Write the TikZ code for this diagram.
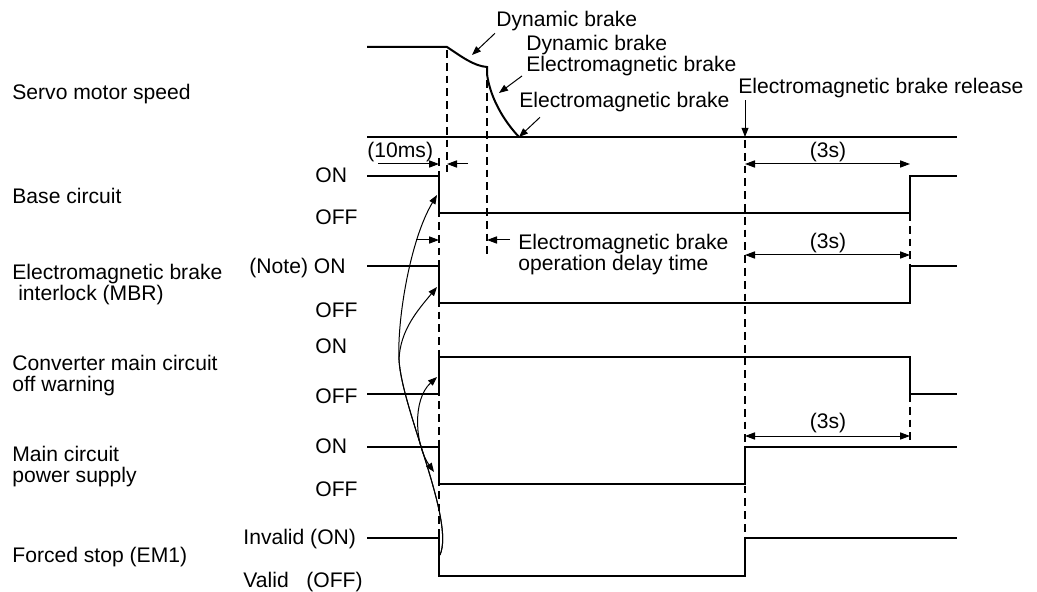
\documentclass[tikz,border=0pt]{standalone}
\usepackage{fontspec}
\setmainfont{Liberation Sans}
\usepackage{xcolor}
\usepackage{tikz}
\usetikzlibrary{arrows.meta}
\tikzset{
  signal/.style={line width=1pt, line join=miter},
  axisline/.style={line width=1.4pt},
  guide/.style={line width=0.6pt, dash pattern=on 3.9pt off 2.5pt},
  dimarrow/.style={line width=0.5pt, -{Triangle[length=5pt,width=3.6pt]}},
  dimboth/.style={line width=0.5pt, {Triangle[length=5pt,width=3.6pt]}-{Triangle[length=5pt,width=3.6pt]}},
  callout/.style={line width=0.5pt, -{Triangle[length=4.5pt,width=3.4pt]}},
  curvearrow/.style={line width=0.5pt, -{Triangle[length=4.5pt,width=3.4pt]}},
  curvebi/.style={line width=0.5pt, {Triangle[length=4.5pt,width=3.4pt]}-{Triangle[length=4.5pt,width=3.4pt]}},
  lbl/.style={inner sep=0pt, anchor=base west},
  lblr/.style={inner sep=0pt, anchor=base east},
  lblc/.style={inner sep=0pt, anchor=base},
  lbl2/.style={inner sep=0pt, anchor=north west, align=left}
}
\begin{document}
\begin{tikzpicture}[x=0.5pt, y=-0.5pt, font=\fontsize{10.55}{10.5}\selectfont]
  \useasboundingbox (0,0) rectangle (1037,592);

  % signal names
  \node[lbl] (speedLbl) at (12,99.5) {Servo motor speed};
  \node[lbl] (baseLbl) at (12,203.5) {Base circuit};
  \node[lbl2] (mbrLbl) at (12,263.5) {Electromagnetic brake\\\ interlock (MBR)};
  \node[lbl2] (convLbl) at (12,354.5) {Converter main circuit\\off warning};
  \node[lbl2] (mainLbl) at (12,445.5) {Main circuit\\power supply};
  \node[lbl] (fsLbl) at (12,562.5) {Forced stop (EM1)};

  % levels
  \node[lbl] (baseOn) at (315,182.5) {ON};
  \node[lbl] (baseOff) at (315,224.5) {OFF};
  \node[lblr] (mbrOn) at (346,273.5) {(Note) ON};
  \node[lbl] (mbrOff) at (315,317.5) {OFF};
  \node[lbl] (convOn) at (315,353.5) {ON};
  \node[lbl] (convOff) at (315,403.5) {OFF};
  \node[lbl] (mainOn) at (315,453.5) {ON};
  \node[lbl] (mainOff) at (315,496.5) {OFF};
  \node[lbl] (fsOn) at (243,544.5) {Invalid (ON)};
  \node[lbl] (fsOff) at (243,587.5) {Valid\ \ \ (OFF)};

  % waveforms
  \draw[axisline] (367,137) -- (519,137);
  \draw[signal] (367,47) -- (447,47) .. controls (462,57) and (474,66) .. (487,67) -- (487,74)
    .. controls (490,97) and (503,120) .. (519,137);
  \draw[signal, line width=0.75pt] (519,137) -- (957,137);
  \draw[signal] (367,176) -- (439,176) -- (439,213) -- (910,213) -- (910,176) -- (957,176);
  \draw[signal] (367,266) -- (439,266) -- (439,303) -- (910,303) -- (910,266) -- (957,266);
  \draw[signal] (367,394) -- (439,394) -- (439,357) -- (910,357) -- (910,394) -- (957,394);
  \draw[signal] (367,447) -- (439,447) -- (439,484) -- (745,484) -- (745,447) -- (957,447);
  \draw[signal] (367,538) -- (439,538) -- (439,576) -- (745,576) -- (745,538) -- (957,538);

  \draw[guide] (447,50) -- (447,172);
  \draw[guide] (487,80) -- (487,258);
  \draw[guide] (439,158) -- (439,545);
  \draw[guide] (745,140) -- (745,538);
  \draw[guide] (910,213) -- (910,266);
  \draw[guide] (910,394) -- (910,440);

  % time spans
  \node[lbl] (msLbl) at (367,157.5) {(10ms)};
  \draw[dimarrow] (378,164) -- (439,164);
  \draw[dimarrow] (468,164) -- (447,164);
  \draw[dimarrow] (416,240) -- (439,240);
  \draw[dimarrow] (510,240) -- (487,240);
  \node[lbl2] (delayLbl) at (518,233.5) {Electromagnetic brake\\operation delay time};
  \draw[dimboth] (745,164) -- (910,164);
  \node[lblc] (spanA) at (828,157.5) {(3s)};
  \draw[dimboth] (745,255) -- (910,255);
  \node[lblc] (spanB) at (828,248.5) {(3s)};
  \draw[dimboth] (745,436) -- (910,436);
  \node[lblc] (spanC) at (828,429) {(3s)};

  % callouts on the speed curve
  \coordinate (dbTip) at (472,55);
  \coordinate (dbemTip) at (499,93);
  \coordinate (emTip) at (519,137);
  \coordinate (relTip) at (745,137);
  \node[lbl] (dbLbl) at (496,26.5) {Dynamic brake};
  \node[lbl2] (dbemLbl) at (526,34.5) {Dynamic brake\\Electromagnetic brake};
  \node[lbl] (emLbl) at (519,107.5) {Electromagnetic brake};
  \node[lbl] (relLbl) at (738,93.5) {Electromagnetic brake release};
  \draw[callout] ([shift={(-1,2)}]dbLbl.south west) -- (dbTip);
  \draw[callout] ([shift={(-4,0)}]dbemLbl.south west) -- (dbemTip);
  \draw[callout] ([shift={(21,5)}]emLbl.south west) -- (emTip);
  \draw[callout] ([shift={(7,2)}]relLbl.south west) -- (relTip);

  % forced stop causes
  \coordinate (fsEdge) at (440,555);
  \coordinate (split) at (399,360);
  \coordinate (baseEdge) at (437,195);
  \coordinate (mbrEdge) at (437,287);
  \coordinate (convEdge) at (437,377);
  \coordinate (mainEdge) at (434,472);
  \draw[curvearrow] (fsEdge) .. controls (455,520) and (402,410) .. (split)
    .. controls (397,320) and (410,240) .. (baseEdge);
  \draw[curvearrow] (fsEdge) .. controls (455,520) and (402,410) .. (split)
    .. controls (400,330) and (418,310) .. (mbrEdge);
  \draw[curvebi] (mainEdge) .. controls (415,445) and (412,400) .. (convEdge);
\end{tikzpicture}
\end{document}
